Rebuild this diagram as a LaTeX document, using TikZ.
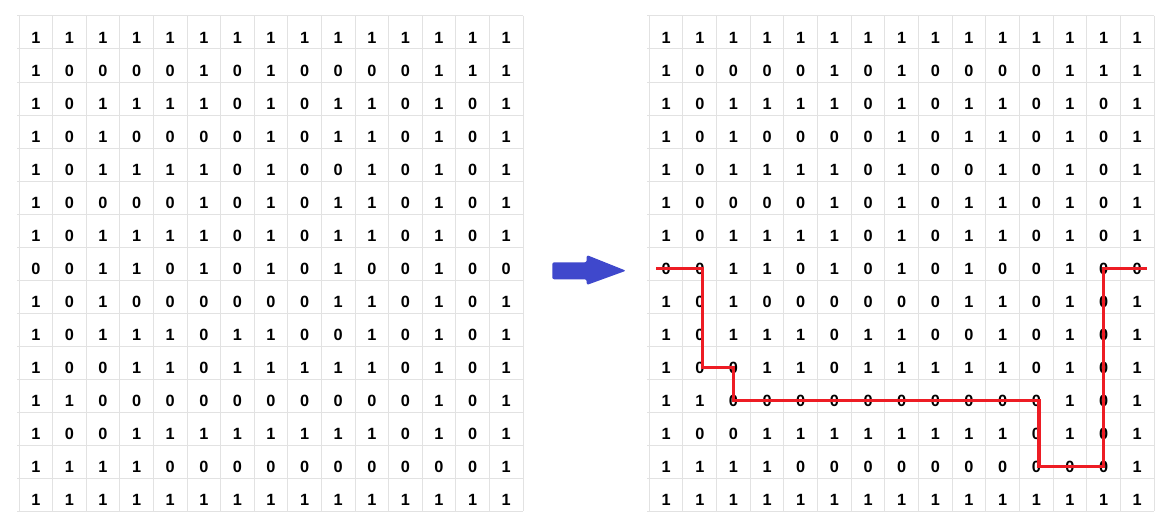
\documentclass[tikz,border=0pt]{standalone}
\usepackage{fontspec}
\setmainfont{Liberation Sans}
\usepackage{xcolor}
\usepackage{tikz}
\usetikzlibrary{arrows.meta,positioning}

\definecolor{gridgray}{RGB}{226,226,226}
\definecolor{pathred}{RGB}{237,28,36}
\definecolor{arrowblue}{RGB}{63,72,204}

\begin{document}
\begin{tikzpicture}[
  x=0.75pt, y=-0.75pt,
  digit/.style={font=\fontsize{12.2}{14}\selectfont\bfseries, inner sep=0pt},
  gridline/.style={gridgray, line width=0.75pt},
  route/.style={pathred, line width=2.5pt, yshift=-1pt},
  >={Latex}
]
\path[fill=white, use as bounding box] (0,0) rectangle (1176,528);

% Grid lines
\foreach \i in {0,...,15} {
  \draw[gridline] (17,{16+33*\i}) -- (523,{16+33*\i});
  \draw[gridline] ({19+33.6*\i},16) -- ({19+33.6*\i},511);
  \draw[gridline] (647,{16+33*\i}) -- (1154,{16+33*\i});
  \draw[gridline] ({649.3+33.65*\i},16) -- ({649.3+33.65*\i},511);
}

% Nodes
\foreach \row [count=\r] in {
  {1,1,1,1,1,1,1,1,1,1,1,1,1,1,1},
  {1,0,0,0,0,1,0,1,0,0,0,0,1,1,1},
  {1,0,1,1,1,1,0,1,0,1,1,0,1,0,1},
  {1,0,1,0,0,0,0,1,0,1,1,0,1,0,1},
  {1,0,1,1,1,1,0,1,0,0,1,0,1,0,1},
  {1,0,0,0,0,1,0,1,0,1,1,0,1,0,1},
  {1,0,1,1,1,1,0,1,0,1,1,0,1,0,1},
  {0,0,1,1,0,1,0,1,0,1,0,0,1,0,0},
  {1,0,1,0,0,0,0,0,0,1,1,0,1,0,1},
  {1,0,1,1,1,0,1,1,0,0,1,0,1,0,1},
  {1,0,0,1,1,0,1,1,1,1,1,0,1,0,1},
  {1,1,0,0,0,0,0,0,0,0,0,0,1,0,1},
  {1,0,0,1,1,1,1,1,1,1,1,0,1,0,1},
  {1,1,1,1,0,0,0,0,0,0,0,0,0,0,1},
  {1,1,1,1,1,1,1,1,1,1,1,1,1,1,1}} {
  \foreach \v [count=\c] in \row {
    \node[digit] (L-\r-\c) at ({19+33.6*(\c-0.5)}, {37.5+33*(\r-1)}) {\v};
    \node[digit] (R-\r-\c) at ({649.3+33.65*(\c-0.5)}, {37.5+33*(\r-1)}) {\v};
  }
}

% Arrow between the grids
\fill[arrowblue, rounded corners=1.5pt]
  (552.3,262.3) -- (586.7,262.3) -- (586.7,255) -- (626,270.7)
  -- (586.7,285) -- (586.7,279.3) -- (552.3,279.3) -- cycle;

% Path through the maze
\draw[route] ([xshift=-7.5pt]R-8-1.center) -- ([xshift=2pt]R-8-2.center)
  -- ([xshift=2pt]R-11-2.center) -- (R-11-3.center) -- (R-12-3.center)
  -- ([xshift=2pt]R-12-12.center) -- ([xshift=2pt]R-14-12.center)
  -- (R-14-14.center) -- (R-8-14.center) -- ([xshift=7.5pt]R-8-15.center);

\end{tikzpicture}
\end{document}
